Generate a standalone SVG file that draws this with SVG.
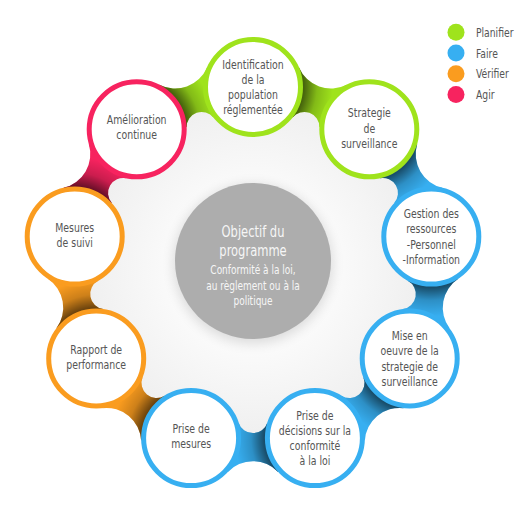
<svg xmlns="http://www.w3.org/2000/svg" width="528" height="518" viewBox="0 0 528 518">
<defs>
<style>
.nt{font-family:"Liberation Sans Narrow","DejaVu Sans Condensed","Liberation Sans",sans-serif;font-size:13px;fill:#555;text-anchor:middle}
.ct{font-family:"Liberation Sans Narrow","DejaVu Sans Condensed","Liberation Sans",sans-serif;fill:#f6f6f6;text-anchor:middle}
.lt{font-family:"Liberation Sans Narrow","DejaVu Sans Condensed","Liberation Sans",sans-serif;font-size:12.5px;fill:#555}
.node{fill:#fff;stroke-width:5}
.gr{stroke:#9fe31c}.bl{stroke:#37aff1}.or{stroke:#fa9c1f}.pk{stroke:#f7235f}
</style>
<path id="band" d="M204.25,-25.39 A34.77,34.77 0 0 0 204.25,25.39 L154.66,14.35 A15.09,15.09 0 0 0 154.66,-14.35 Z"/>
<clipPath id="bandclip"><path d="M204.25,-25.39 A34.77,34.77 0 0 0 204.25,25.39 L154.66,14.35 A15.09,15.09 0 0 0 154.66,-14.35 Z"/></clipPath>
<radialGradient id="shadow">
<stop offset="0.6" stop-color="#000" stop-opacity="0.6"/>
<stop offset="0.64" stop-color="#000" stop-opacity="0.55"/>
<stop offset="0.8" stop-color="#000" stop-opacity="0.18"/>
<stop offset="1" stop-color="#000" stop-opacity="0"/>
</radialGradient>
<radialGradient id="bg" gradientUnits="userSpaceOnUse" cx="253" cy="268" r="170">
<stop offset="0.45" stop-color="#fbfbfb"/>
<stop offset="1" stop-color="#efefef"/>
</radialGradient>
<filter id="blur" x="-30%" y="-30%" width="160%" height="160%"><feGaussianBlur stdDeviation="6"/></filter>
</defs>
<rect width="528" height="518" fill="#fff"/>
<circle cx="253" cy="268" r="168" fill="url(#bg)"/>
<g id="connectors">
<g transform="translate(253 268) rotate(-70)"><use href="#band" fill="#9fe31c"/><circle cx="170.09" cy="-61.91" r="80" fill="url(#shadow)" clip-path="url(#bandclip)"/></g>
<g transform="translate(253 268) rotate(-30)"><use href="#band" fill="#37aff1"/><circle cx="170.09" cy="-61.91" r="80" fill="url(#shadow)" clip-path="url(#bandclip)"/></g>
<g transform="translate(253 268) rotate(10)"><use href="#band" fill="#37aff1"/><circle cx="170.09" cy="-61.91" r="80" fill="url(#shadow)" clip-path="url(#bandclip)"/></g>
<g transform="translate(253 268) rotate(50)"><use href="#band" fill="#37aff1"/><circle cx="170.09" cy="-61.91" r="80" fill="url(#shadow)" clip-path="url(#bandclip)"/></g>
<g transform="translate(253 268) rotate(90)"><use href="#band" fill="#37aff1"/><circle cx="170.09" cy="-61.91" r="80" fill="url(#shadow)" clip-path="url(#bandclip)"/></g>
<g transform="translate(253 268) rotate(130)"><use href="#band" fill="#fa9c1f"/><circle cx="170.09" cy="-61.91" r="80" fill="url(#shadow)" clip-path="url(#bandclip)"/></g>
<g transform="translate(253 268) rotate(170)"><use href="#band" fill="#fa9c1f"/><circle cx="170.09" cy="-61.91" r="80" fill="url(#shadow)" clip-path="url(#bandclip)"/></g>
<g transform="translate(253 268) rotate(210)"><use href="#band" fill="#f7235f"/><circle cx="170.09" cy="-61.91" r="80" fill="url(#shadow)" clip-path="url(#bandclip)"/></g>
<g transform="translate(253 268) rotate(250)"><use href="#band" fill="#9fe31c"/><circle cx="170.09" cy="-61.91" r="80" fill="url(#shadow)" clip-path="url(#bandclip)"/></g>
</g>
<g id="center">
<circle cx="253" cy="264" r="80" fill="#000" opacity="0.12" filter="url(#blur)"/>
<circle cx="253" cy="261" r="78" fill="#adadad"/>
<g transform="translate(253 0) scale(0.8 1)">
<text class="ct" font-size="16"><tspan x="0" y="237">Objectif du</tspan><tspan x="0" y="256">programme</tspan></text>
<text class="ct" font-size="12.5"><tspan x="0" y="274.5">Conformité à la loi,</tspan><tspan x="0" y="290">au règlement ou à la</tspan><tspan x="0" y="305.5">politique</tspan></text>
</g>
</g>
<g id="n-identification" transform="translate(253 87)"><circle class="node gr" r="47.5"/><text class="nt" transform="scale(0.8 1)"><tspan x="0" y="-18.5">Identification</tspan><tspan x="0" y="-3.2">de la</tspan><tspan x="0" y="12.1">population</tspan><tspan x="0" y="27.4">réglementée</tspan></text></g>
<g id="n-strategie" transform="translate(369.3 129.3)"><circle class="node gr" r="47.5"/><text class="nt" transform="scale(0.8 1)"><tspan x="0" y="-12">Strategie</tspan><tspan x="0" y="3.5">de</tspan><tspan x="0" y="19">surveillance</tspan></text></g>
<g id="n-gestion" transform="translate(431.3 236.6)"><circle class="node bl" r="47.5"/><text class="nt" transform="scale(0.8 1)"><tspan x="0" y="-18.5">Gestion des</tspan><tspan x="0" y="-3.2">ressources</tspan><tspan x="0" y="12.1">-Personnel</tspan><tspan x="0" y="27.4">-Information</tspan></text></g>
<g id="n-mise" transform="translate(409.7 358.5)"><circle class="node bl" r="47.5"/><text class="nt" transform="scale(0.8 1)"><tspan x="0" y="-18.5">Mise en</tspan><tspan x="0" y="-3.2">oeuvre de la</tspan><tspan x="0" y="12.1">strategie de</tspan><tspan x="0" y="27.4">surveillance</tspan></text></g>
<g id="n-decisions" transform="translate(314.9 438.1)"><circle class="node bl" r="47.5"/><text class="nt" transform="scale(0.8 1)"><tspan x="0" y="-18.5">Prise de</tspan><tspan x="0" y="-3.2">décisions sur la</tspan><tspan x="0" y="12.1">conformité</tspan><tspan x="0" y="27.4">à la loi</tspan></text></g>
<g id="n-prise-mesures" transform="translate(191.1 438.1)"><circle class="node bl" r="47.5"/><text class="nt" transform="scale(0.8 1)"><tspan x="0" y="-5">Prise de</tspan><tspan x="0" y="10">mesures</tspan></text></g>
<g id="n-rapport" transform="translate(96.2 358.5)"><circle class="node or" r="47.5"/><text class="nt" transform="scale(0.8 1)"><tspan x="0" y="-5">Rapport de</tspan><tspan x="0" y="10">performance</tspan></text></g>
<g id="n-suivi" transform="translate(74.7 236.6)"><circle class="node or" r="47.5"/><text class="nt" transform="scale(0.8 1)"><tspan x="0" y="-5">Mesures</tspan><tspan x="0" y="10">de suivi</tspan></text></g>
<g id="n-amelioration" transform="translate(136.7 129.3)"><circle class="node pk" r="47.5"/><text class="nt" transform="scale(0.8 1)"><tspan x="0" y="-5">Amélioration</tspan><tspan x="0" y="10">continue</tspan></text></g>
<g id="legend">
<circle cx="456" cy="32.3" r="8.5" fill="#9fe31c"/><text class="lt" transform="translate(476 37) scale(0.82 1)">Planifier</text>
<circle cx="456" cy="53" r="8.5" fill="#37aff1"/><text class="lt" transform="translate(476 57.7) scale(0.82 1)">Faire</text>
<circle cx="456" cy="73.7" r="8.5" fill="#fa9c1f"/><text class="lt" transform="translate(476 78.4) scale(0.82 1)">Vérifier</text>
<circle cx="456" cy="94.4" r="8.5" fill="#f7235f"/><text class="lt" transform="translate(476 99.1) scale(0.82 1)">Agir</text>
</g>
</svg>
